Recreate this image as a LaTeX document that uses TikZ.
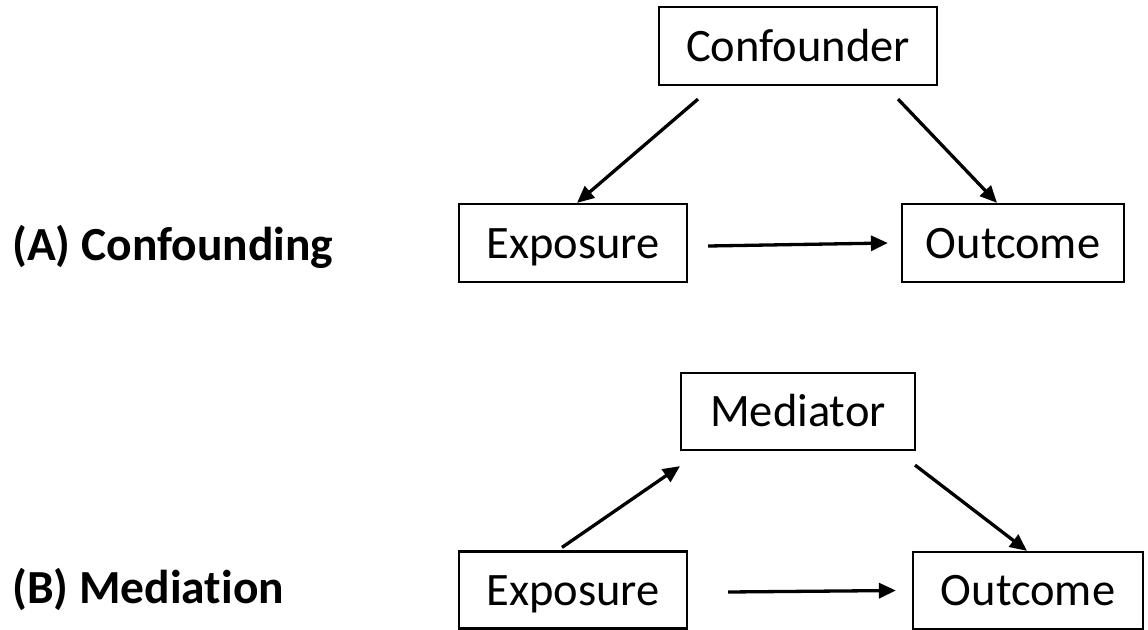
\documentclass[tikz,border=0pt]{standalone}
\usepackage{fontspec}
\setmainfont[Ligatures=NoCommon]{Carlito}
\usetikzlibrary{arrows.meta}
\begin{document}
\begin{tikzpicture}[x=1pt,y=-1pt,
  box/.style={draw=black,line width=2.2pt,inner sep=0pt,text height=36pt,text depth=6pt,font=\fontsize{46.5}{50}\selectfont},
  arr/.style={line width=3.3pt,-{Triangle[length=17pt,width=15pt]}},
  lbl/.style={anchor=base west,inner sep=0pt,font=\fontsize{47.5}{50}\selectfont\bfseries}]
\useasboundingbox (0,0) rectangle (1148,629);
\fill[white] (0,0) rectangle (1148,629);
% (A)
\node[lbl] (la) at (12,260) {(A) Confounding};
\node[box,minimum width=278pt,minimum height=78pt] (conf) at (798,46) {Confounder};
\node[box,minimum width=228pt,minimum height=78pt] (expA) at (573,243) {Exposure};
\node[box,minimum width=222pt,minimum height=78pt] (outA) at (1013,243) {Outcome};
\draw[arr] ([xshift=-100pt,yshift=-13pt]conf.south) -- ([xshift=4pt]expA.north);
\draw[arr] ([xshift=100pt,yshift=-13pt]conf.south) -- ([xshift=-16pt]outA.north);
\draw[arr] ([xshift=20pt,yshift=-3pt]expA.east) -- ([xshift=-13pt]outA.west);
% (B)
\node[lbl] (lb) at (12,603) {(B) Mediation};
\node[box,minimum width=234pt,minimum height=77pt] (med) at (798,411.5) {Mediator};
\node[box,minimum width=228pt,minimum height=77pt] (expB) at (573,590) {Exposure};
\node[box,minimum width=230pt,minimum height=77pt] (outB) at (1028,590.5) {Outcome};
\draw[arr] ([xshift=-11pt,yshift=3pt]expB.north) -- ([xshift=-118pt,yshift=-15pt]med.south);
\draw[arr] ([xshift=117pt,yshift=-14pt]med.south) -- ([xshift=-1pt]outB.north);
\draw[arr] ([xshift=40pt,yshift=-2pt]expB.east) -- ([xshift=-16pt]outB.west);
\end{tikzpicture}
\end{document}
